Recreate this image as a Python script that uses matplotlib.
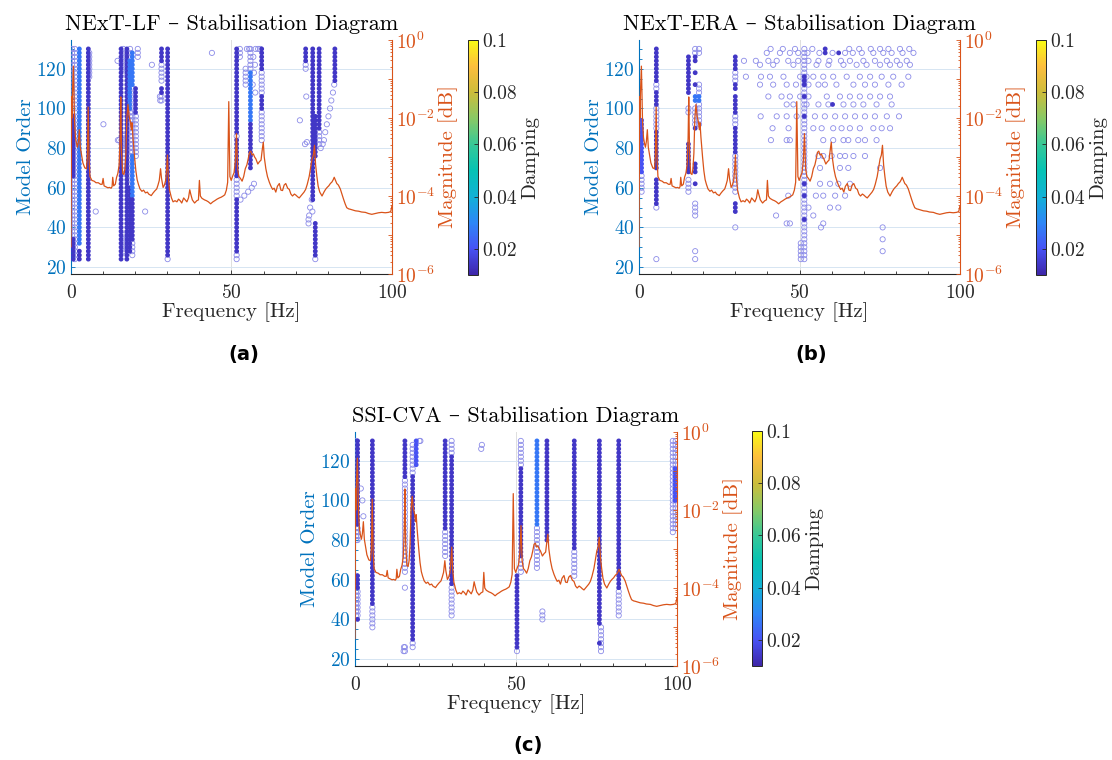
import numpy as np
import matplotlib
matplotlib.use("Agg")
import matplotlib.pyplot as plt
from matplotlib.colors import LinearSegmentedColormap, Normalize
from matplotlib.cm import ScalarMappable
from matplotlib.ticker import MultipleLocator, FixedLocator, FixedFormatter, LogLocator, NullFormatter

plt.rcParams['font.family'] = ['cmr10', 'DejaVu Serif']
plt.rcParams['mathtext.fontset'] = 'cm'
plt.rcParams['axes.formatter.use_mathtext'] = True

# ---------------- measured spectrum (shared by all three methods) ----------------
spec_freq = [0.0, 0.1, 0.2, 0.3, 0.45, 0.6, 0.75, 0.9, 1.1, 1.4, 1.7, 2.0, 2.3, 2.6, 2.9, 3.2, 3.7,
             4.3, 4.8, 5.1, 5.35, 5.6, 5.9, 6.5, 7.2, 7.8, 8.5, 9.2, 9.7, 10.0, 10.3, 10.8, 11.5,
             12.0, 12.5, 12.8, 13.0, 13.3, 13.8, 14.2, 14.6, 15.0, 15.3, 15.5, 15.75, 16.1, 16.5,
             16.8, 17.1, 17.4, 17.75, 18.1, 18.5, 18.8, 19.0, 19.3, 19.8, 20.2, 20.6, 21.0, 21.5,
             22.1, 22.6, 23.2, 23.8, 24.2, 25.0, 25.5, 26.1, 26.7, 27.1, 27.5, 27.9, 28.2, 28.7,
             29.1, 29.5, 29.8, 30.05, 30.3, 30.7, 31.3, 31.8, 32.4, 33.0, 33.5, 34.0, 34.5, 35.1,
             35.6, 36.1, 36.6, 37.0, 37.3, 37.8, 38.5, 39.2, 39.7, 40.0, 40.3, 40.8, 41.6, 42.2,
             42.8, 43.5, 44.2, 44.8, 45.5, 46.2, 46.8, 47.4, 47.9, 48.4, 48.8, 49.15, 49.5, 49.9,
             50.4, 50.8, 51.2, 51.55, 51.9, 52.3, 52.8, 53.3, 53.8, 54.3, 54.8, 55.2, 55.6, 56.0,
             56.4, 56.8, 57.2, 57.6, 58.2, 58.7, 59.2, 59.6, 59.9, 60.2, 60.7, 61.2, 61.8, 62.3,
             62.8, 63.3, 63.8, 64.3, 64.9, 65.4, 65.9, 66.4, 66.9, 67.5, 68.0, 68.5, 69.0, 69.6,
             70.1, 70.6, 71.1, 71.6, 72.1, 72.6, 73.1, 73.6, 74.2, 74.7, 75.1, 75.5, 75.85, 76.2,
             76.6, 77.0, 77.5, 78.2, 78.8, 79.3, 79.8, 80.3, 80.8, 81.3, 81.7, 82.0, 82.4, 82.8,
             83.3, 83.9, 84.4, 84.9, 85.4, 85.9, 86.5, 87.0, 87.8, 88.6, 89.6, 90.5, 91.7, 92.7,
             93.7, 94.7, 95.8, 96.8, 97.9, 98.9, 99.6, 100.0]
spec_log10 = [-5.3, -3.6, -1.45, -2.0, -1.35, -1.0, -0.67, -1.3, -2.1, -2.5, -2.65, -2.75, -2.6,
              -2.3, -2.75, -2.9, -3.15, -3.28, -3.3, -3.0, -1.72, -3.0, -3.5, -3.6, -3.62, -3.66,
              -3.66, -3.7, -3.7, -3.55, -3.74, -3.76, -3.79, -3.78, -3.8, -3.76, -3.52, -3.74,
              -3.7, -3.52, -3.42, -3.2, -2.5, -1.46, -2.9, -3.42, -3.45, -3.3, -2.9, -2.0, -1.65,
              -1.95, -2.1, -2.3, -2.12, -2.5, -3.0, -3.35, -3.58, -3.7, -3.82, -3.88, -3.85,
              -3.92, -3.9, -3.95, -3.99, -3.93, -3.87, -3.82, -3.72, -3.6, -3.3, -3.55, -3.78,
              -3.72, -3.6, -3.3, -2.95, -3.5, -3.85, -4.05, -4.15, -4.12, -4.15, -4.08, -4.12,
              -4.18, -4.05, -4.1, -4.15, -4.05, -3.84, -3.95, -4.1, -4.18, -4.12, -4.1, -3.6,
              -4.0, -4.06, -4.1, -4.12, -4.15, -4.2, -4.15, -4.12, -4.08, -4.05, -4.03, -4.0,
              -3.97, -3.85, -3.65, -1.58, -3.5, -3.6, -3.48, -3.4, -3.1, -2.4, -3.3, -3.5, -3.55,
              -3.62, -3.5, -3.3, -3.2, -3.05, -2.88, -2.85, -2.95, -2.92, -3.0, -3.05, -3.18,
              -3.12, -3.08, -2.8, -2.62, -3.0, -3.3, -3.5, -3.65, -3.75, -3.83, -3.8, -3.9,
              -3.75, -3.68, -3.85, -3.86, -3.72, -3.68, -3.8, -3.83, -3.95, -4.0, -3.95, -3.98,
              -4.02, -4.05, -4.0, -3.95, -3.9, -3.83, -3.7, -3.5, -3.25, -3.05, -2.95, -2.7,
              -3.2, -3.5, -3.75, -3.9, -4.0, -3.9, -3.83, -3.78, -3.74, -3.68, -3.64, -3.58,
              -3.52, -3.6, -3.68, -3.72, -3.82, -3.95, -4.08, -4.2, -4.3, -4.33, -4.34, -4.36,
              -4.38, -4.39, -4.41, -4.42, -4.45, -4.47, -4.45, -4.43, -4.42, -4.43, -4.42, -4.4,
              -4.25]

# ---------------- stabilisation results ----------------
# stable poles: (frequency, first order, last order, damping), one pole every 2nd model order
# unstable pole runs: (frequency, first order, last order)
# isolated unstable poles: (frequency, order)
lf_stable = [(0.7, 66, 96, 0.014), (0.7, 24, 34, 0.014), (2.6, 32, 130, 0.027), (2.6, 24, 28, 0.014),
             (5.4, 24, 130, 0.014), (15.6, 24, 130, 0.014), (17.4, 24, 130, 0.014),
             (18.3, 100, 124, 0.027), (18.3, 28, 60, 0.014), (19.1, 112, 128, 0.027),
             (19.1, 56, 76, 0.027), (19.1, 34, 54, 0.014), (20.1, 98, 110, 0.014),
             (28.2, 124, 130, 0.014), (28.2, 108, 110, 0.014), (30.1, 26, 130, 0.014),
             (51.6, 88, 130, 0.014), (51.6, 66, 84, 0.014), (51.6, 28, 54, 0.014),
             (55.9, 94, 118, 0.027), (55.9, 70, 92, 0.014), (59.4, 120, 130, 0.014),
             (59.4, 100, 106, 0.014), (73.1, 124, 130, 0.014), (75.3, 54, 130, 0.014),
             (76.1, 76, 96, 0.014), (76.1, 26, 42, 0.014), (77.3, 90, 130, 0.014),
             (82.2, 114, 130, 0.014)]
lf_open = [(0.3, 36, 130), (1.2, 24, 130), (5.7, 116, 128), (16.3, 118, 130), (16.4, 80, 86),
           (16.4, 28, 36), (18.4, 62, 98), (18.4, 126, 130), (19.1, 78, 110), (19.1, 26, 32),
           (20.2, 76, 96), (20.8, 126, 130), (28.2, 104, 106), (28.2, 114, 122), (30.1, 24, 24),
           (51.6, 56, 64), (51.6, 86, 86), (51.6, 24, 26), (52.6, 126, 130), (54.4, 112, 120),
           (55.9, 120, 130), (59.4, 84, 98), (59.4, 108, 118), (76.1, 24, 24), (77.3, 82, 88),
           (73.1, 120, 122)]
lf_loose_f = [7.7, 10.1, 14.5, 14.6, 15.0, 23.1, 25.2, 27.7, 27.8, 43.9, 52.8, 54.0, 55.2, 56.3,
              57.0, 57.5, 56.8, 57.3, 57.0, 56.6, 57.4, 58.3, 58.9, 71.3, 73.3, 72.9, 73.5, 74.5,
              74.2, 74.0, 74.0, 75.0, 75.2, 82.0, 81.6, 81.1, 80.7, 80.2, 79.7, 79.2, 78.8, 78.4,
              77.8, 54.8, 55.5]
lf_loose_n = [48, 92, 124, 84, 84, 48, 122, 106, 104, 128, 54, 56, 58, 60,
              62, 130, 126, 122, 118, 112, 108, 130, 130, 94, 106, 82, 83, 50,
              46, 44, 42, 54, 48, 112, 108, 104, 100, 96, 92, 88, 84, 82,
              80, 130, 130]

era_stable = [(0.8, 68, 94, 0.02), (5.4, 114, 130, 0.014), (5.4, 102, 108, 0.014),
              (5.4, 70, 88, 0.014), (5.4, 52, 64, 0.014), (15.4, 108, 126, 0.014),
              (15.4, 68, 82, 0.014), (17.5, 124, 126, 0.014), (17.5, 118, 118, 0.014),
              (17.5, 112, 112, 0.014), (17.5, 104, 106, 0.027), (18.7, 104, 106, 0.027),
              (17.5, 90, 90, 0.014), (17.5, 68, 72, 0.014), (17.5, 62, 62, 0.014),
              (30.0, 120, 126, 0.014), (30.0, 110, 112, 0.014), (30.0, 98, 106, 0.014),
              (30.0, 78, 90, 0.014), (30.0, 48, 52, 0.014), (51.5, 112, 116, 0.014),
              (51.5, 106, 106, 0.014), (51.5, 96, 96, 0.014), (51.5, 62, 62, 0.014),
              (51.5, 56, 56, 0.014), (51.5, 44, 44, 0.014), (58.0, 128, 130, 0.014),
              (62.2, 128, 128, 0.014), (60.3, 102, 102, 0.014)]
era_open = [(0.8, 58, 66), (5.4, 110, 112), (5.4, 90, 100), (5.4, 50, 50), (15.4, 98, 100),
            (15.4, 58, 64), (17.5, 128, 130), (17.5, 92, 100), (17.5, 46, 52), (18.7, 128, 130),
            (18.7, 92, 102), (18.7, 108, 112), (30.0, 114, 118), (30.0, 92, 96), (30.0, 58, 76),
            (30.0, 40, 40), (51.5, 24, 130), (50.4, 24, 32)]
era_rows = {
    130: [41.0, 44.8, 48.6, 54.0, 65.5, 68.6, 72.2, 75.1, 77.7, 81.3, 84.2],
    128: [39.8, 43.9, 47.0, 49.6, 52.5, 56.2, 60.3, 64.2, 66.6, 69.4, 73.0, 76.1, 78.7, 82.1, 85.5],
    124: [32.7, 36.4, 40.3, 42.9, 46.5, 49.6, 52.8, 55.9, 59.3, 62.9, 65.7, 69.9, 73.5, 77.2, 80.3, 83.4],
    122: [37.7, 41.8, 48.1, 55.3, 59.0, 63.7, 67.8, 70.9, 75.1, 78.2, 81.3, 84.4],
    116: [33.3, 38.0, 40.8, 45.0, 50.2, 52.2, 54.3, 57.4, 60.5, 64.7, 68.8, 72.0, 75.6, 79.2, 83.9],
    112: [37.7, 41.8, 46.0, 48.9, 52.8, 55.9, 57.9, 61.5, 66.8, 70.4, 73.5, 77.7, 81.8],
    106: [40.3, 44.4, 47.0, 50.2, 52.8, 58.5, 62.6, 65.7, 68.8, 72.0, 75.1, 78.2],
    102: [46.0, 48.1, 52.2, 55.9, 59.0, 63.7, 66.8, 69.9, 74.0, 78.7],
    96: [37.9, 42.9, 46.0, 49.1, 54.8, 57.9, 61.1, 64.2, 67.3, 70.4, 73.5, 77.2, 81.0],
    90: [41.6, 46.6, 54.3, 56.9, 60.5, 63.1, 65.7, 68.8, 73.0, 75.6, 78.2],
    84: [41.1, 46.0, 47.0, 57.4, 60.5, 63.7, 65.2, 68.3, 70.4, 74.0],
    76: [55.9, 57.4, 60.0, 62.6, 64.2, 66.8, 70.4],
    70: [56.4, 62.6, 65.2, 75.1],
    62: [56.4, 59.5, 62.1, 65.7],
    56: [46.5, 55.1, 57.4, 61.1, 64.2],
    50: [52.8, 59.5, 62.1],
    46: [42.7, 54.3],
    42: [46.0, 47.0, 57.4],
    40: [56.7, 75.9],
    34: [75.9],
    28: [75.9, 17.5],
    24: [5.4, 17.5],
}
era_loose_f = [f for n, fs in era_rows.items() for f in fs]
era_loose_n = [n for n, fs in era_rows.items() for f in fs]

cva_stable = [(0.8, 88, 130, 0.014), (0.8, 56, 62, 0.014), (0.8, 40, 40, 0.014),
              (5.4, 48, 130, 0.014), (15.5, 112, 130, 0.014), (17.9, 30, 112, 0.014),
              (19.0, 118, 130, 0.02), (28.0, 86, 130, 0.014), (30.0, 58, 122, 0.014),
              (50.3, 26, 62, 0.014), (51.5, 72, 116, 0.014), (56.5, 88, 130, 0.027),
              (59.6, 80, 130, 0.014), (68.1, 76, 130, 0.014), (75.9, 38, 130, 0.014),
              (75.9, 28, 28, 0.014), (81.9, 56, 130, 0.014), (99.4, 100, 116, 0.02)]
cva_open = [(0.3, 80, 130), (0.3, 42, 62), (0.8, 80, 86), (0.8, 42, 54), (5.4, 36, 46),
            (15.5, 64, 110), (15.5, 56, 56), (15.5, 24, 26), (17.9, 114, 128), (17.9, 26, 28),
            (28.0, 72, 84), (30.0, 124, 130), (30.0, 42, 56), (50.3, 24, 24), (51.5, 118, 130),
            (51.5, 64, 70), (56.5, 66, 86), (68.1, 62, 74), (76.4, 24, 36), (81.9, 42, 54),
            (98.7, 84, 130), (99.6, 86, 130)]
cva_loose_f = [1.8, 2.3, 2.6, 20.0, 20.3, 39.2, 39.4, 58.2, 58.2, 58.2, 15.1, 15.2]
cva_loose_n = [106, 100, 92, 130, 130, 126, 128, 44, 42, 40, 24, 26]

titles = ['NExT-LF – Stabilisation Diagram', 'NExT-ERA – Stabilisation Diagram',
          'SSI-CVA – Stabilisation Diagram']
letters = ['(a)', '(b)', '(c)']

# ---------------- styling ----------------
BLUE = '#0072BD'
ORANGE = '#D95319'
DARK = '#262626'
OPEN_EDGE = '#8b8be8'

parula = LinearSegmentedColormap.from_list('parula', [
    (0.2422, 0.1504, 0.6603), (0.2810, 0.3228, 0.9579), (0.1786, 0.5289, 0.9682),
    (0.0689, 0.6948, 0.8394), (0.0198, 0.7627, 0.7064), (0.2161, 0.7843, 0.5923),
    (0.5330, 0.7896, 0.3985), (0.8000, 0.7406, 0.2322), (0.9932, 0.7439, 0.2393),
    (0.9769, 0.9839, 0.0805)])
norm = Normalize(0.01, 0.1)

TICK_FS = 14
LABEL_FS = 15
TITLE_FS = 16


def expand(runs):
    f, n, d = [], [], []
    for run in runs:
        orders = np.arange(run[1], run[2] + 1, 2)
        f.extend([run[0]] * len(orders))
        n.extend(orders)
        if len(run) > 3:
            d.extend([run[3]] * len(orders))
    return np.array(f), np.array(n), np.array(d)


def panel(fig, rect, cbar_rect, title, letter, letter_xy, stable, openruns, loose_f, loose_n):
    ax = fig.add_axes(rect)
    ax.set_xlim(0, 100)
    ax.set_ylim(16.5, 134.5)

    of, on, _ = expand(openruns)
    of = np.concatenate([of, loose_f])
    on = np.concatenate([on, loose_n])
    ax.scatter(of, on, s=14, facecolors='none', edgecolors=OPEN_EDGE, linewidths=0.6, zorder=3)
    sf, sn, sd = expand(stable)
    ax.scatter(sf, sn, s=12, c=sd, cmap=parula, norm=norm, linewidths=0, zorder=4)

    ax.xaxis.set_major_locator(FixedLocator([0, 50, 100]))
    ax.xaxis.set_minor_locator(MultipleLocator(10))
    ax.yaxis.set_major_locator(FixedLocator([20, 40, 60, 80, 100, 120]))
    ax.yaxis.set_minor_locator(MultipleLocator(5))
    ax.grid(True, axis='y', color='#d6e5f2', lw=0.7, zorder=0)
    ax.grid(True, axis='x', color='#dedede', lw=0.7, zorder=0)
    ax.set_axisbelow(True)
    ax.spines['top'].set_visible(False)
    ax.spines['right'].set_visible(False)
    ax.spines['left'].set_color(BLUE)
    ax.spines['bottom'].set_color(DARK)
    ax.tick_params(axis='x', which='both', direction='in', colors=DARK, labelsize=TICK_FS,
                   length=3, width=0.6, pad=7)
    ax.tick_params(axis='x', which='minor', length=2)
    ax.tick_params(axis='y', which='both', direction='in', colors=BLUE, labelsize=TICK_FS,
                   length=3, width=0.6, pad=3)
    ax.tick_params(axis='y', which='minor', length=1.8)
    ax.set_xlabel('Frequency [Hz]', fontsize=LABEL_FS, color=DARK, labelpad=0)
    ax.set_ylabel('Model Order', fontsize=LABEL_FS, color=BLUE, labelpad=1)
    ax.set_title(title, fontsize=TITLE_FS, color='black', pad=7)

    ax2 = ax.twinx()
    ax2.plot(spec_freq, 10.0 ** np.array(spec_log10), color=ORANGE, lw=0.9)
    ax2.set_yscale('log')
    ax2.set_ylim(1e-6, 1)
    ax2.set_xlim(0, 100)
    ax2.yaxis.set_major_locator(FixedLocator([1e-6, 1e-5, 1e-4, 1e-3, 1e-2, 1e-1, 1]))
    ax2.yaxis.set_major_formatter(FixedFormatter(
        [r'$10^{-6}$', '', r'$10^{-4}$', '', r'$10^{-2}$', '', r'$10^{0}$']))
    ax2.yaxis.set_minor_locator(LogLocator(base=10, subs=np.arange(2, 10), numticks=20))
    ax2.yaxis.set_minor_formatter(NullFormatter())
    for s in ('top', 'left', 'bottom'):
        ax2.spines[s].set_visible(False)
    ax2.spines['right'].set_color(ORANGE)
    ax2.tick_params(axis='y', which='both', direction='in', colors=ORANGE, labelsize=TICK_FS,
                    length=3, width=0.6, pad=3)
    ax2.tick_params(axis='y', which='minor', length=1.8)
    ax2.set_ylabel('Magnitude [dB]', fontsize=LABEL_FS, color=ORANGE, labelpad=2)

    cax = fig.add_axes(cbar_rect)
    cb = fig.colorbar(ScalarMappable(norm=norm, cmap=parula), cax=cax)
    cb.set_ticks([0.02, 0.04, 0.06, 0.08, 0.1])
    cb.set_ticklabels(['0.02', '0.04', '0.06', '0.08', '0.1'])
    cb.outline.set_edgecolor(DARK)
    cb.outline.set_linewidth(0.7)
    cax.tick_params(direction='in', colors=DARK, labelsize=TICK_FS, length=3, width=0.6, pad=3)
    cb.set_label('Damping', fontsize=LABEL_FS, color=DARK, labelpad=3)

    fig.text(letter_xy[0], letter_xy[1], letter, fontsize=14, fontweight='bold',
             family='DejaVu Sans', ha='center', va='center')


fig = plt.figure(figsize=(11.12, 7.60), dpi=100)
W, H = 1112.0, 760.0


def r(x0, y0, x1, y1):
    return [x0 / W, 1 - y1 / H, (x1 - x0) / W, (y1 - y0) / H]


panel(fig, r(71, 40, 392, 274), r(468, 40, 478, 275), titles[0], letters[0], (244 / W, 1 - 355 / H),
      lf_stable, lf_open, lf_loose_f, lf_loose_n)
panel(fig, r(639, 40, 960, 274), r(1036, 40, 1046, 275), titles[1], letters[1], (811 / W, 1 - 355 / H),
      era_stable, era_open, era_loose_f, era_loose_n)
panel(fig, r(355, 432, 677, 666), r(752, 431, 762, 666), titles[2], letters[2], (528 / W, 1 - 745 / H),
      cva_stable, cva_open, cva_loose_f, cva_loose_n)

fig.savefig('out.png', dpi=100)
